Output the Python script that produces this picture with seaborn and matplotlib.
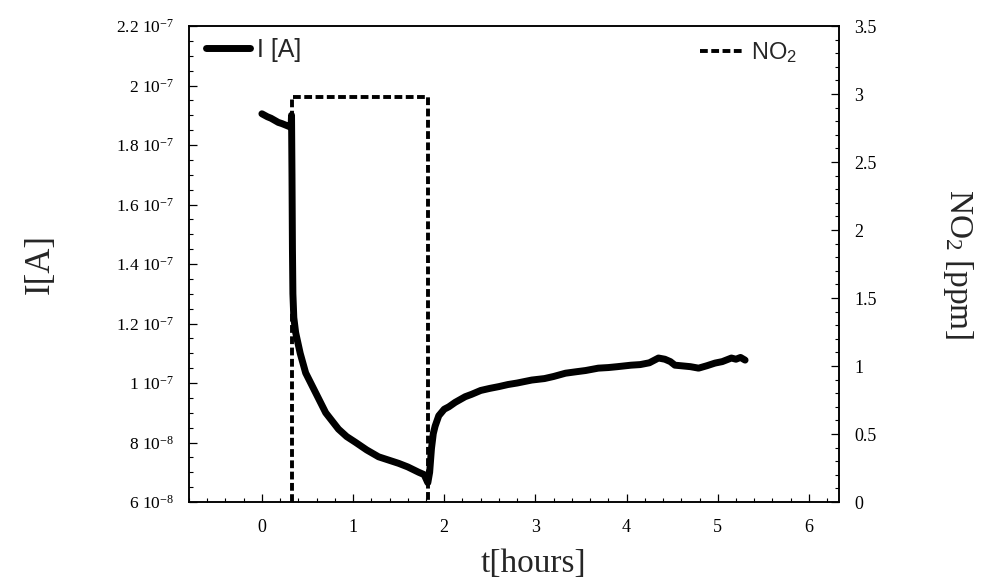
import numpy as np
import pandas as pd
import matplotlib
matplotlib.use("Agg")
import matplotlib.pyplot as plt
from matplotlib.ticker import MultipleLocator, FixedLocator, FixedFormatter
import seaborn as sns

# ---- data ----
t_hours = [0.00, 0.03, 0.06, 0.10, 0.14, 0.18, 0.22, 0.26, 0.30, 0.32,
           0.325, 0.33, 0.335, 0.34, 0.35, 0.37, 0.42, 0.48, 0.59, 0.70,
           0.84, 0.93, 1.03, 1.15, 1.28, 1.40, 1.50, 1.60, 1.72, 1.78,
           1.82, 1.84, 1.86, 1.88, 1.90, 1.94, 2.00, 2.05, 2.12, 2.23,
           2.30, 2.40, 2.50, 2.60, 2.70, 2.80, 2.96, 3.10, 3.20, 3.33,
           3.45, 3.55, 3.69, 3.80, 3.90, 4.05, 4.15, 4.25, 4.35, 4.42,
           4.48, 4.53, 4.60, 4.70, 4.79, 4.88, 4.97, 5.05, 5.15, 5.20,
           5.25, 5.30]
current_A = [1.905e-7, 1.900e-7, 1.895e-7, 1.890e-7, 1.883e-7, 1.876e-7, 1.872e-7, 1.867e-7, 1.862e-7, 1.860e-7,
             1.900e-7, 1.700e-7, 1.450e-7, 1.300e-7, 1.220e-7, 1.170e-7, 1.100e-7, 1.034e-7, 0.967e-7, 0.900e-7,
             0.845e-7, 0.820e-7, 0.800e-7, 0.775e-7, 0.752e-7, 0.740e-7, 0.730e-7, 0.718e-7, 0.700e-7, 0.692e-7,
             0.665e-7, 0.700e-7, 0.780e-7, 0.830e-7, 0.855e-7, 0.890e-7, 0.912e-7, 0.920e-7, 0.935e-7, 0.954e-7,
             0.962e-7, 0.975e-7, 0.982e-7, 0.988e-7, 0.995e-7, 1.000e-7, 1.010e-7, 1.015e-7, 1.022e-7, 1.033e-7,
             1.038e-7, 1.042e-7, 1.050e-7, 1.052e-7, 1.055e-7, 1.060e-7, 1.062e-7, 1.068e-7, 1.084e-7, 1.080e-7,
             1.072e-7, 1.060e-7, 1.058e-7, 1.055e-7, 1.050e-7, 1.058e-7, 1.067e-7, 1.072e-7, 1.084e-7, 1.080e-7,
             1.086e-7, 1.077e-7]

no2_t = [0.325, 0.325, 1.82, 1.82]
no2_ppm = [0.0, 2.98, 2.98, 0.0]

left_ticks = [6e-8, 8e-8, 1e-7, 1.2e-7, 1.4e-7, 1.6e-7, 1.8e-7, 2e-7, 2.2e-7]
left_labels = ["6 10$^{-8}$", "8 10$^{-8}$", "1 10$^{-7}$", "1.2 10$^{-7}$", "1.4 10$^{-7}$",
               "1.6 10$^{-7}$", "1.8 10$^{-7}$", "2 10$^{-7}$", "2.2 10$^{-7}$"]
right_ticks = [0, 0.5, 1, 1.5, 2, 2.5, 3, 3.5]
right_labels = ["0", "0.5", "1", "1.5", "2", "2.5", "3", "3.5"]
x_ticks = [0, 1, 2, 3, 4, 5, 6]

# ---- style ----
sns.set_theme(style="ticks")
plt.rcParams["font.family"] = ["Liberation Serif", "DejaVu Serif"]
plt.rcParams["mathtext.default"] = "regular"

fig = plt.figure(figsize=(9.93, 5.86), dpi=100)
ax = fig.add_axes([0.1903, 0.1433, 0.6546, 0.8123])
ax2 = ax.twinx()

df_i = pd.DataFrame({"t": t_hours, "I": current_A})
df_n = pd.DataFrame({"t": no2_t, "n": no2_ppm})

sns.lineplot(data=df_i, x="t", y="I", ax=ax, color="black", lw=5.0,
             estimator=None, sort=False, label="I [A]")
sns.lineplot(data=df_n, x="t", y="n", ax=ax2, color="black", lw=2.8,
             linestyle=(0, (2.0, 0.9)), estimator=None, sort=False, label="NO$_2$")

ax.set_xlim(-0.8, 6.33)
ax.set_ylim(6e-8, 2.2e-7)
ax2.set_ylim(0, 3.5)

ax.xaxis.set_major_locator(FixedLocator(x_ticks))
ax.xaxis.set_minor_locator(MultipleLocator(0.2))
ax.yaxis.set_major_locator(FixedLocator(left_ticks))
ax.yaxis.set_major_formatter(FixedFormatter(left_labels))
ax.yaxis.set_minor_locator(MultipleLocator(0.05e-7))
ax2.yaxis.set_major_locator(FixedLocator(right_ticks))
ax2.yaxis.set_major_formatter(FixedFormatter(right_labels))
ax2.yaxis.set_minor_locator(MultipleLocator(0.1))

for a in (ax, ax2):
    for s in a.spines.values():
        s.set_linewidth(1.1)
        s.set_color("black")
    a.tick_params(which="major", direction="in", length=5.5, width=0.9,
                  labelsize=13, colors="black")
    a.tick_params(which="minor", direction="in", length=3, width=0.8, colors="black")
ax.tick_params(axis="y", which="major", labelsize=12.5)
ax.tick_params(axis="x", which="major", pad=12)
ax.tick_params(axis="y", which="major", pad=11)
ax2.tick_params(axis="y", which="major", pad=11)
ax.tick_params(top=False, right=False, which="both")
ax2.tick_params(left=False, which="both")

ax.set_xlabel("t[hours]", fontsize=24)
ax.xaxis.set_label_coords(0.53, -0.097)
ax.xaxis.label.set_va("top")
ax.set_ylabel("I[A]", fontsize=25, rotation=90, ha="center", va="center")
ax.yaxis.set_label_coords(-0.229, 0.5)
ax2.set_ylabel("NO$_2$ [ppm]", fontsize=24, rotation=270, ha="center", va="center")
ax2.yaxis.set_label_coords(1.183, 0.5)

sans = {"family": "Liberation Sans"}
leg1 = ax.legend(loc="upper left", bbox_to_anchor=(0.026, 0.975), frameon=False,
                 borderpad=0, borderaxespad=0, handlelength=1.76, handletextpad=0.28,
                 prop={**sans, "size": 18})
leg2 = ax2.legend(loc="upper right", bbox_to_anchor=(0.935, 0.97), frameon=False,
                  borderpad=0, borderaxespad=0, handlelength=1.9, handletextpad=0.25,
                  prop={**sans, "size": 17})

fig.savefig("out.png", dpi=100)
